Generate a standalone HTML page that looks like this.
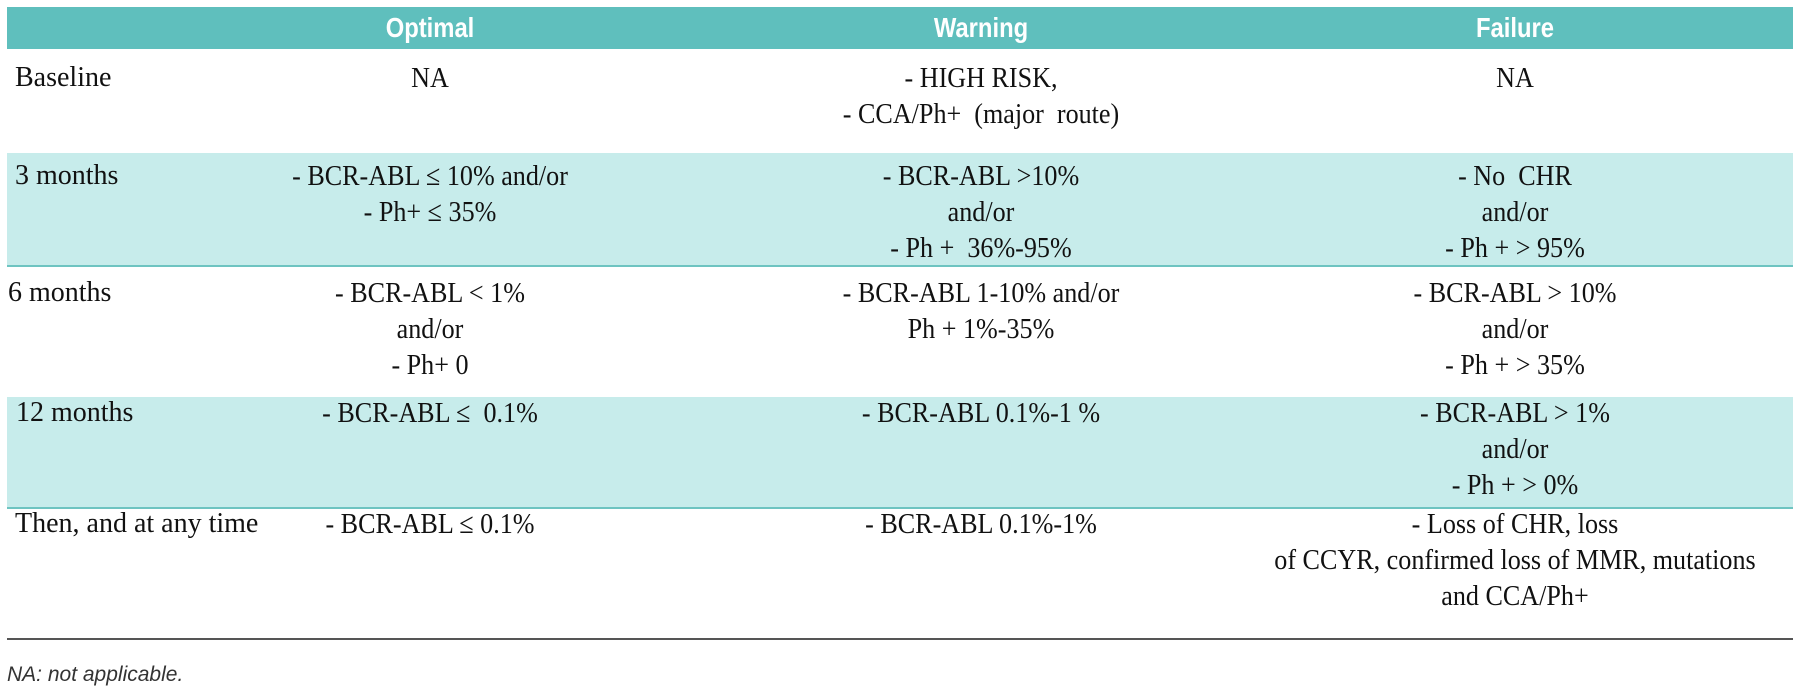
<!DOCTYPE html>
<html>
<head>
<meta charset="utf-8">
<style>
  html,body{margin:0;padding:0;background:#fff;}
  body{width:1800px;height:694px;position:relative;overflow:hidden;font-family:"Liberation Serif",serif;color:#111;}
  .band{position:absolute;left:7px;width:1786px;}
  .hdr{top:7px;height:42px;background:#5fbfbd;}
  .hcell{position:absolute;top:0;height:42px;line-height:42px;font-family:"Liberation Sans",sans-serif;font-weight:bold;font-size:28px;color:#fff;text-align:center;width:500px;transform:scaleX(0.85);transform-origin:center;}
  .row{position:absolute;left:7px;width:1786px;}
  .alt{background:#c7eceb;border-bottom:2px solid #6ec4c1;box-sizing:border-box;}
  .cell{position:absolute;top:0;font-size:29px;line-height:36px;text-align:center;width:560px;white-space:nowrap;transform:scaleX(0.9);transform-origin:center top;}
  .lab{position:absolute;top:0;left:8px;font-size:28px;line-height:36px;white-space:nowrap;}
  .c1{left:143px;}
  .c2{left:694px;}
  .c3{left:1228px;}
  .rule{position:absolute;left:7px;width:1786px;top:638px;height:2px;background:#555;}
  .foot{position:absolute;left:7px;top:663px;font-family:"Liberation Sans",sans-serif;font-style:italic;font-size:21px;color:#333;}
</style>
</head>
<body>
<div class="band hdr">
  <div class="hcell" style="left:173px">Optimal</div>
  <div class="hcell" style="left:724px">Warning</div>
  <div class="hcell" style="left:1258px">Failure</div>
</div>

<div class="row" style="top:49px;height:104px">
  <div class="lab" style="top:11px">Baseline</div>
  <div class="cell c1" style="top:11px">NA</div>
  <div class="cell c2" style="top:11px">- HIGH RISK,<br>- CCA/Ph+ &nbsp;(major &nbsp;route)</div>
  <div class="cell c3" style="top:11px">NA</div>
</div>

<div class="row alt" style="top:153px;height:114px">
  <div class="lab" style="top:5px">3 months</div>
  <div class="cell c1" style="top:5px">- BCR-ABL ≤ 10% and/or<br>- Ph+ ≤ 35%</div>
  <div class="cell c2" style="top:5px">- BCR-ABL &gt;10%<br>and/or<br>- Ph + &nbsp;36%-95%</div>
  <div class="cell c3" style="top:5px">- No &nbsp;CHR<br>and/or<br>- Ph + &gt; 95%</div>
</div>

<div class="row" style="top:267px;height:130px">
  <div class="lab" style="left:1px;top:8px">6 months</div>
  <div class="cell c1" style="top:8px">- BCR-ABL &lt; 1%<br>and/or<br>- Ph+ 0</div>
  <div class="cell c2" style="top:8px">- BCR-ABL 1-10% and/or<br>Ph + 1%-35%</div>
  <div class="cell c3" style="top:8px">- BCR-ABL &gt; 10%<br>and/or<br>- Ph + &gt; 35%</div>
</div>

<div class="row alt" style="top:397px;height:112px">
  <div class="lab" style="left:9px;top:-2px">12 months</div>
  <div class="cell c1" style="top:-2px">- BCR-ABL ≤ &nbsp;0.1%</div>
  <div class="cell c2" style="top:-2px">- BCR-ABL 0.1%-1 %</div>
  <div class="cell c3" style="top:-2px">- BCR-ABL &gt; 1%<br>and/or<br>- Ph + &gt; 0%</div>
</div>

<div class="row" style="top:509px;height:129px">
  <div class="lab" style="top:-3px">Then, and at any time</div>
  <div class="cell c1" style="top:-3px">- BCR-ABL ≤ 0.1%</div>
  <div class="cell c2" style="top:-3px">- BCR-ABL 0.1%-1%</div>
  <div class="cell c3" style="top:-3px">- Loss of CHR, loss<br>of CCYR, confirmed loss of MMR, mutations<br>and CCA/Ph+</div>
</div>

<div class="rule"></div>
<div class="foot">NA: not applicable.</div>
</body>
</html>
